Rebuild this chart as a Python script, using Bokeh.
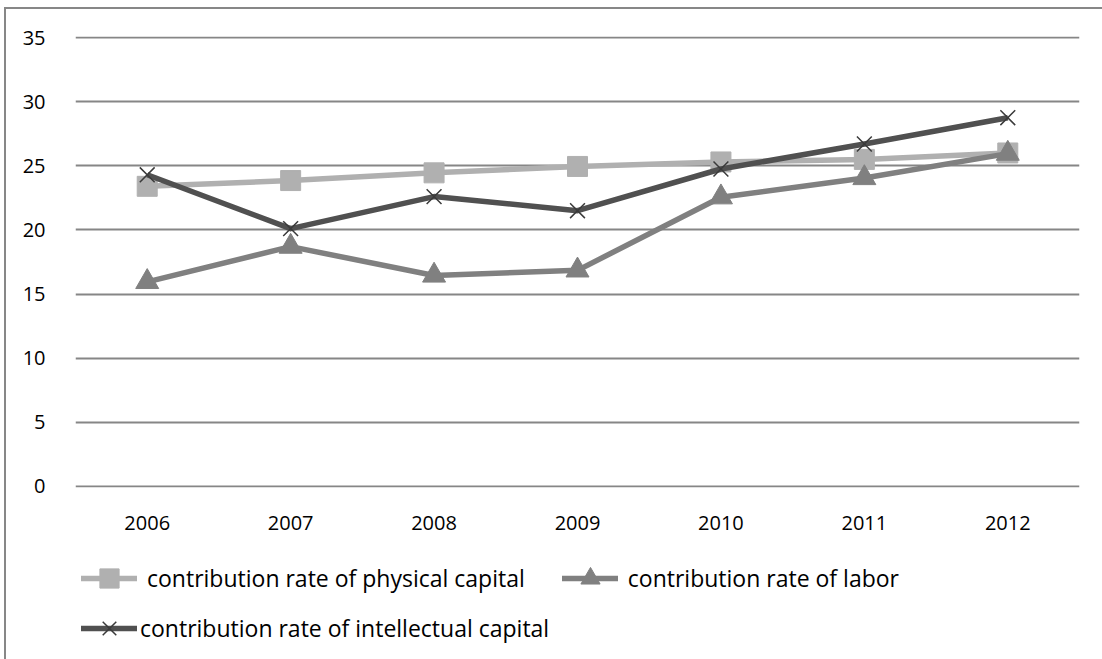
from bokeh.plotting import figure
from bokeh.layouts import column
from bokeh.models import Range1d, FactorRange, Legend, LegendItem, FixedTicker
from bokeh.embed import file_html
from bokeh.resources import INLINE

years = ["2006", "2007", "2008", "2009", "2010", "2011", "2012"]
physical = [23.4, 23.85, 24.45, 24.95, 25.3, 25.5, 26.0]
labor = [15.95, 18.7, 16.45, 16.85, 22.55, 24.05, 25.95]
intellectual = [24.3, 20.1, 22.6, 21.5, 24.75, 26.7, 28.75]
yticks = [0, 5, 10, 15, 20, 25, 30, 35]
names = ["contribution rate of physical capital",
         "contribution rate of labor",
         "contribution rate of intellectual capital"]

FONT = "Open Sans"
c_phys, c_lab, c_int, c_x = "#B0B0B0", "#808080", "#505050", "#3A3A3A"

W = 1096
p = figure(width=W, height=540, x_range=FactorRange(factors=years, range_padding=0),
           y_range=Range1d(-0.08, 35.08), output_backend="svg", toolbar_location=None,
           min_border_left=69, min_border_right=23, min_border_top=27, min_border_bottom=62)
p.outline_line_color = None
p.xgrid.grid_line_color = None
p.ygrid.grid_line_color = "#868686"
p.ygrid.grid_line_width = 2
p.yaxis.ticker = FixedTicker(ticks=yticks)

for ax in (p.xaxis[0], p.yaxis[0]):
    ax.axis_line_color = None
    ax.major_tick_line_color = None
    ax.minor_tick_line_color = None
    ax.major_label_text_font = FONT
    ax.major_label_text_font_size = "20px"
    ax.major_label_text_color = "#000000"
p.xaxis.major_label_standoff = 22
p.yaxis.major_label_standoff = 24

p.line(years, physical, line_color=c_phys, line_width=5.5, line_join="round")
p.scatter(years, physical, marker="square", size=20, fill_color=c_phys, line_color=c_phys)
p.line(years, labor, line_color=c_lab, line_width=5.5, line_join="round")
p.scatter(years, labor, marker="triangle", size=23, fill_color=c_lab, line_color=c_lab)
p.line(years, intellectual, line_color=c_int, line_width=5.5, line_join="round")
p.scatter(years, intellectual, marker="x", size=21, line_color=c_x, line_width=1.5)

# legend strip below the chart; its renderers lie outside its visible range and only serve as legend keys
q = figure(width=W, height=110, x_range=FactorRange(factors=years), y_range=Range1d(-10, -9),
           output_backend="svg", toolbar_location=None,
           x_axis_location=None, y_axis_location=None, min_border=0)
q.outline_line_color = None
q.grid.grid_line_color = None
k1 = [q.line(years, physical, line_color=c_phys, line_width=5.5, line_cap="round"),
      q.scatter(years, physical, marker="square", fill_color=c_phys, line_color=c_phys)]
k2 = [q.line(years, labor, line_color=c_lab, line_width=5.5, line_cap="round"),
      q.scatter(years, labor, marker="triangle", fill_color=c_lab, line_color=c_lab)]
k3 = [q.line(years, intellectual, line_color=c_int, line_width=5.5, line_cap="round"),
      q.scatter(years, intellectual, marker="x", line_color=c_x, line_width=1.5)]

def mk_legend(items, loc, standoff):
    lg = Legend(items=items, location=loc, orientation="horizontal")
    lg.label_text_font = FONT
    lg.label_text_font_size = "23px"
    lg.label_text_color = "#000000"
    lg.glyph_width = 56
    lg.glyph_height = 48
    lg.label_standoff = standoff
    lg.spacing = 37
    lg.padding = 0
    lg.margin = 0
    lg.border_line_color = None
    lg.background_fill_alpha = 0
    return lg

leg1 = mk_legend([LegendItem(label=names[0], renderers=k1),
                  LegendItem(label=names[1], renderers=k2)], (6, 57), 10)
leg2 = mk_legend([LegendItem(label=names[2], renderers=k3)], (6, 7), 3)
q.add_layout(leg1, "center")
q.add_layout(leg2, "center")

layout = column(p, q, spacing=0)
layout.styles = {"border-top": "2px solid #878787", "border-left": "2px solid #878787"}
layout.margin = (7, 0, 0, 4)

open("out.html", "w").write(file_html(layout, INLINE))
